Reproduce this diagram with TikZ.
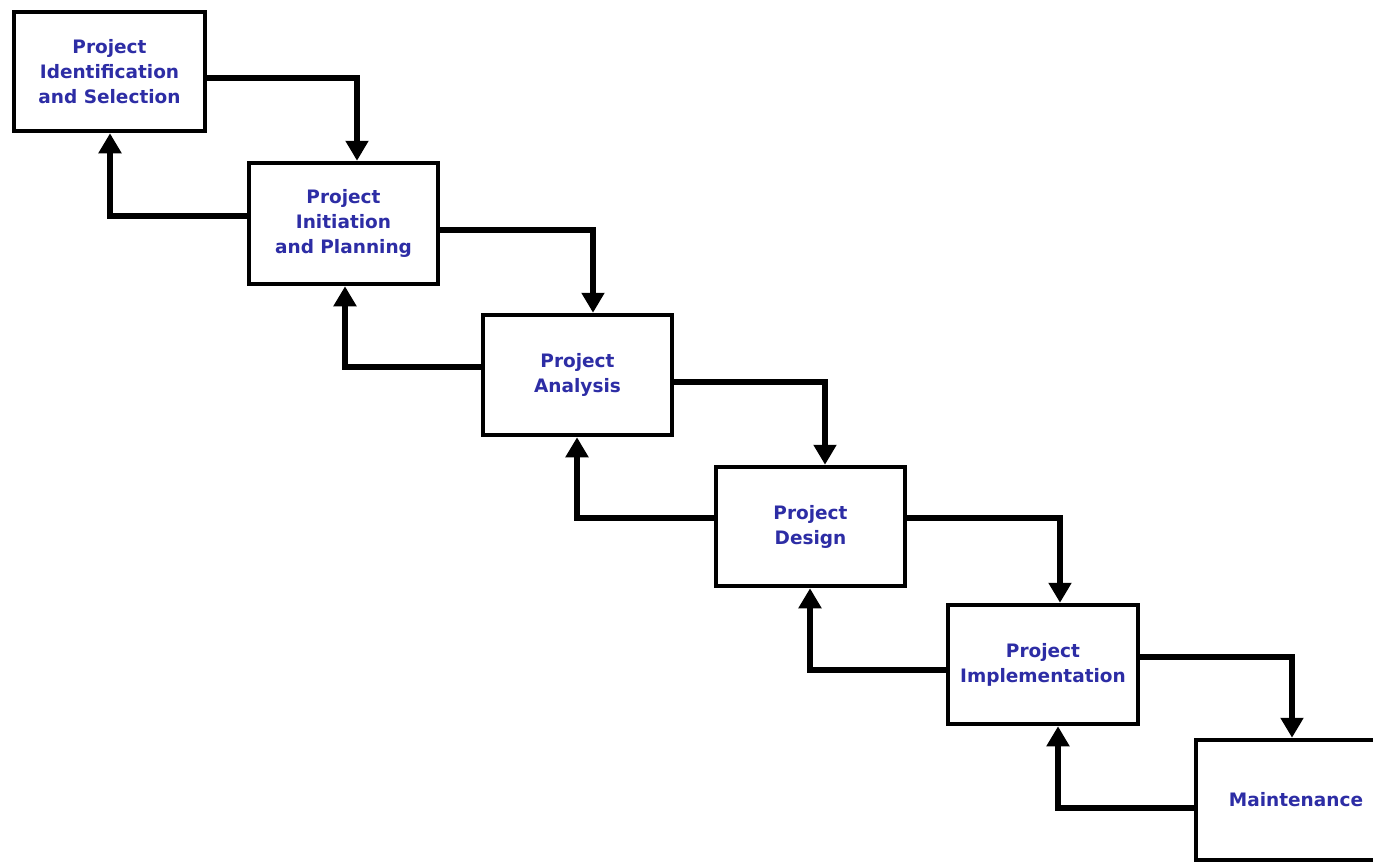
\documentclass[tikz,border=0pt]{standalone}
\usepackage{fontspec}
\setmainfont{DejaVu Sans}
\usetikzlibrary{arrows.meta}
\definecolor{txt}{RGB}{45,45,165}
\begin{document}
\begin{tikzpicture}[x=1pt,y=-1pt,
  stage/.style={draw=black,line width=4.5pt,fill=white,align=center,
    font=\bfseries\fontsize{18.5}{25}\selectfont,text=txt,inner sep=0pt},
  flow/.style={line width=6pt,-{Triangle[width=22pt,length=20pt]}}]
\useasboundingbox[fill=white] (0,0) rectangle (1373,863);
\node[stage,minimum width=191pt,minimum height=119pt] (b1) at (109.5,71.5) {Project\\Identification\\and Selection};
\node[stage,minimum width=189pt,minimum height=121pt] (b2) at (343.5,223.5) {Project\\Initiation\\and Planning};
\node[stage,minimum width=189pt,minimum height=120pt] (b3) at (577.5,375) {Project\\Analysis};
\node[stage,minimum width=189pt,minimum height=119pt] (b4) at (810.5,526.5) {Project\\Design};
\node[stage,minimum width=190pt,minimum height=119pt] (b5) at (1043,664.5) {Project\\Implementation};
\node[stage,minimum width=200pt,minimum height=120pt] (b6) at (1296,800) {Maintenance};
\draw[flow] (b1.east |- 0,78) -| (b2.north -| 357,0);
\draw[flow] (b2.west |- 0,216) -| (b1.south -| 110,0);
\draw[flow] (b2.east |- 0,230) -| (b3.north -| 593,0);
\draw[flow] (b3.west |- 0,367) -| (b2.south -| 345,0);
\draw[flow] (b3.east |- 0,382) -| (b4.north -| 825,0);
\draw[flow] (b4.west |- 0,518) -| (b3.south -| 577,0);
\draw[flow] (b4.east |- 0,518) -| (b5.north -| 1060,0);
\draw[flow] (b5.west |- 0,670) -| (b4.south -| 810,0);
\draw[flow] (b5.east |- 0,657) -| (b6.north -| 1292,0);
\draw[flow] (b6.west |- 0,808) -| (b5.south -| 1058,0);
\end{tikzpicture}
\end{document}
